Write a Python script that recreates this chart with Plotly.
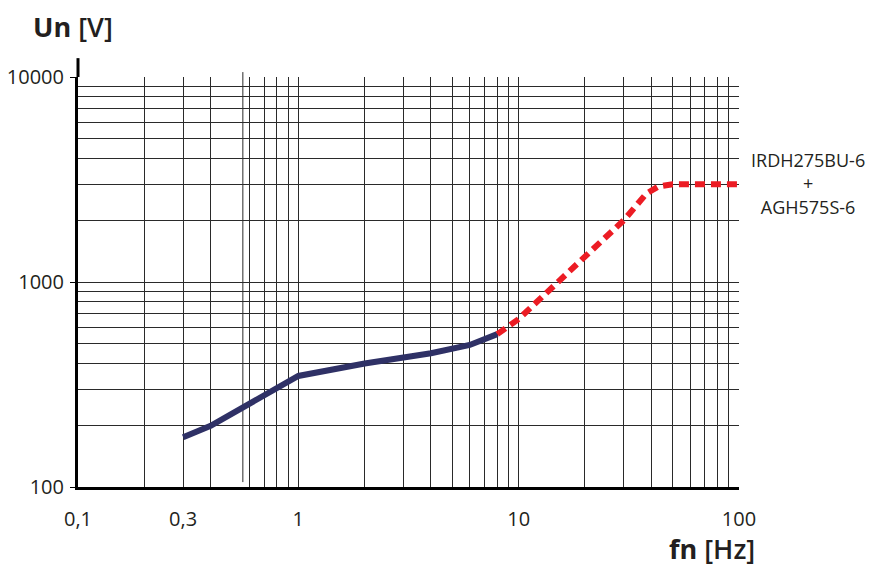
import plotly.graph_objects as go

# ---- data ----
fn_blue = [0.3, 0.4, 1, 2, 4, 6, 8]
un_blue = [175, 199, 348, 400, 449, 493, 557]

fn_red = [8, 10, 20, 30, 38, 43, 50, 100]
un_red = [557, 660, 1330, 2000, 2700, 2920, 3000, 3000]

x_tickvals = [0.1, 0.3, 1, 10, 100]
x_ticktext = ["0,1", "0,3", "1", "10", "100"]
x_tickmarks = [1, 10, 100]
x_minor = [0.2, 0.4, 0.6, 0.7, 0.8, 0.9,
           2, 3, 4, 5, 6, 7, 8, 9,
           20, 30, 40, 50, 60, 70, 80, 90]

y_tickvals = [100, 1000, 10000]
y_ticktext = ["100", "1000", "10000"]
y_minor = [200, 300, 400, 500, 600, 700, 800, 900,
           2000, 3000, 4000, 5000, 6000, 7000, 8000, 9000]

label_lines = ["IRDH275BU-6", "+", "AGH575S-6"]

FONT = "Open Sans"
TXT = "#231f20"
GRID = "#2a2a2a"

fig = go.Figure()
fig.add_trace(go.Scatter(x=fn_blue, y=un_blue, mode="lines",
                         line=dict(color="#2f3166", width=6),
                         showlegend=False, hoverinfo="skip"))
fig.add_trace(go.Scatter(x=fn_red, y=un_red, mode="lines",
                         line=dict(color="#ec1c24", width=6, dash="10px,6px"),
                         showlegend=False, hoverinfo="skip"))

fig.update_layout(
    width=867, height=561,
    template="none",
    paper_bgcolor="white", plot_bgcolor="white",
    margin=dict(l=70, r=136, t=69, b=82),
    font=dict(family=FONT, color=TXT, size=20),
    xaxis=dict(
        type="log", range=[-1, 2], automargin=False,
        tickmode="array", tickvals=x_tickvals, ticktext=x_ticktext,
        ticks="", showgrid=True, gridcolor=GRID, gridwidth=1,
        showline=True, linecolor="black", linewidth=3,
        zeroline=False, ticklabelstandoff=12,
        tickfont=dict(family=FONT, size=20, color=TXT),
        minor=dict(tickmode="array", tickvals=x_minor, showgrid=True,
                   gridcolor=GRID, gridwidth=1, ticks=""),
    ),
    xaxis2=dict(
        type="log", range=[-1, 2], overlaying="x", anchor="y", side="bottom",
        tickmode="array", tickvals=x_tickmarks, ticks="outside", ticklen=7,
        tickwidth=1, tickcolor="black", showticklabels=False,
        showgrid=False, showline=False, zeroline=False, automargin=False,
    ),
    yaxis=dict(
        type="log", range=[2, 4], automargin=False,
        tickmode="array", tickvals=y_tickvals, ticktext=y_ticktext,
        ticks="outside", ticklen=5, tickwidth=1, tickcolor="black",
        showgrid=True, gridcolor=GRID, gridwidth=1,
        showline=True, linecolor="black", linewidth=3,
        zeroline=False, ticklabelstandoff=2,
        tickfont=dict(family=FONT, size=20, color=TXT),
        minor=dict(tickmode="array", tickvals=y_minor, showgrid=True,
                   gridcolor=GRID, gridwidth=1, ticks=""),
    ),
    shapes=[
        # upward extension of the y axis line
        dict(type="line", xref="paper", yref="paper", x0=0, x1=0, y0=1, y1=1.046,
             line=dict(color="black", width=3)),
        # odd stray grid line in the first decade
        dict(type="line", xref="x", yref="paper", x0=0.56, x1=0.56, y0=0.012, y1=1.012,
             line=dict(color=GRID, width=1), layer="below"),
    ],
    annotations=[
        dict(text="<br>".join(label_lines), xref="paper", yref="paper",
             x=1.1043, y=0.741, xanchor="center", yanchor="middle", align="center",
             showarrow=False, borderpad=0,
             font=dict(family=FONT, size=18, color=TXT)),
        dict(text="<b>Un</b> [V]", xref="paper", yref="paper", x=-0.07, y=1.122,
             xanchor="left", yanchor="middle", showarrow=False, borderpad=0,
             font=dict(family=FONT, size=27, color=TXT, weight=600)),
        dict(text="<b>fn</b> [Hz]", xref="paper", yref="paper", x=0.8926, y=-0.151,
             xanchor="left", yanchor="middle", showarrow=False, borderpad=0,
             font=dict(family=FONT, size=27, color=TXT, weight=600)),
    ],
)

fig.write_html("out.html")
